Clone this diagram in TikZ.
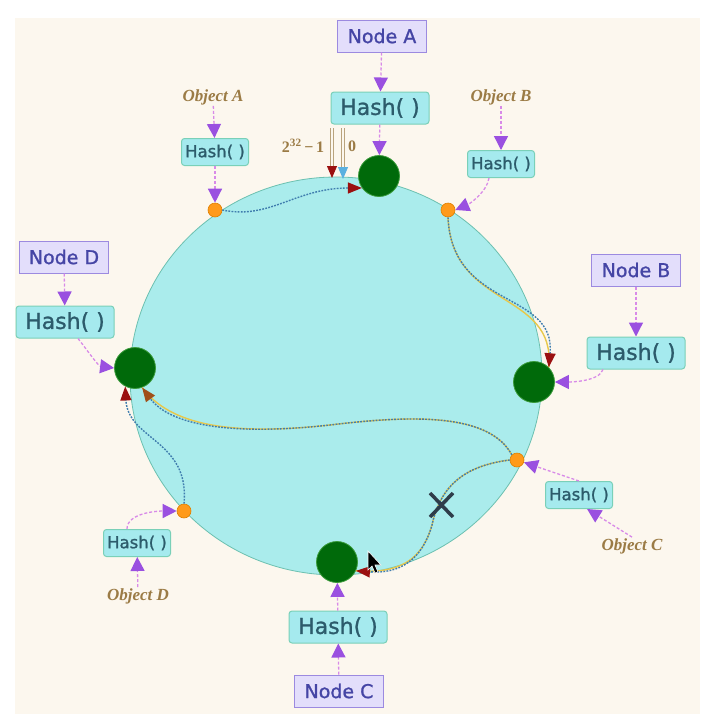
\documentclass[tikz,border=0pt]{standalone}
\usepackage{fontspec}
\setmainfont{Liberation Serif}
\newfontfamily\boxfont[FakeBold=1.2]{DejaVu Sans}
\newfontfamily\objfont{Liberation Serif}
\usetikzlibrary{arrows.meta}
\definecolor{PaperCream}{HTML}{FCF7EE}
\definecolor{RingCyan}{HTML}{AAECEC}
\definecolor{RingEdge}{HTML}{6CC0B0}
\definecolor{HubGreen}{HTML}{006A0A}
\definecolor{HubEdge}{HTML}{3A9A3A}
\definecolor{KeyOrange}{HTML}{FF9A1A}
\definecolor{KeyEdge}{HTML}{E08000}
\definecolor{ServerFill}{HTML}{E3DEFB}
\definecolor{ServerEdge}{HTML}{9C8AE0}
\definecolor{ServerText}{HTML}{4545A5}
\definecolor{HashFill}{HTML}{A5EAEE}
\definecolor{HashEdge}{HTML}{7AD0B8}
\definecolor{HashText}{HTML}{2C5B6B}
\definecolor{LinkPink}{HTML}{D88AE8}
\definecolor{LinkPurple}{HTML}{9A50E0}
\definecolor{ObjBrown}{HTML}{9B7B45}
\definecolor{FlowBlue}{HTML}{3F7DAE}
\definecolor{FlowYellow}{HTML}{E8C84A}
\definecolor{TipRed}{HTML}{9B1010}
\definecolor{TipBrown}{HTML}{A0501A}
\definecolor{TipBlue}{HTML}{5AB0E0}
\definecolor{CrossGray}{HTML}{2F3D4A}

\begin{document}
\begin{tikzpicture}[x=1pt,y=-1pt,
        server/.style={draw=ServerEdge,fill=ServerFill,text=ServerText,line width=1pt,minimum width=89pt,minimum height=32pt,inner sep=1pt,font=\boxfont\fontsize{19}{21}\selectfont},
        hashbig/.style={draw=HashEdge,fill=HashFill,text=HashText,rounded corners=3pt,line width=1pt,minimum width=98pt,minimum height=32pt,inner sep=1pt,font=\boxfont\fontsize{22}{24}\selectfont},
        hashsmall/.style={hashbig,minimum width=67pt,minimum height=27pt,font=\boxfont\fontsize{16.5}{18}\selectfont},
        objlabel/.style={text=ObjBrown,inner sep=1pt,font=\objfont\bfseries\itshape\fontsize{17}{19}\selectfont},
        hub/.style={circle,fill=HubGreen,draw=HubEdge,line width=0.8pt,minimum size=41pt,inner sep=0pt},
        key/.style={circle,fill=KeyOrange,draw=KeyEdge,line width=0.6pt,minimum size=14pt,inner sep=0pt},
        parr/.style={draw=LinkPink,line width=1.3pt,densely dashed,-{Triangle[length=14pt,width=14pt,color=LinkPurple]}},
        flow/.style={draw=FlowBlue,line width=1.4pt,dash pattern=on 1.8pt off 1.3pt,-{Triangle[length=14pt,width=11pt,color=TipRed]}},
        warmflow/.style={flow,preaction={draw=FlowYellow,line width=1.4pt,-}},
        markline/.style={draw=#1,line width=0.8pt,double=PaperCream,double distance=1.8pt}
      ]
        \useasboundingbox (0,0) rectangle (709,721);
        \fill[white] (0,0) rectangle (709,721);
        \fill[PaperCream] (15,18) rectangle (700,714);
        \draw[RingEdge,fill=RingCyan,line width=0.8pt] (336,376) ellipse [x radius=206,y radius=199];

        \node[hub] (gA) at (379,176) {};
        \node[hub] (gB) at (534,382) {};
        \node[hub] (gC) at (337,562) {};
        \node[hub] (gD) at (135,368) {};
        \node[key] (oA) at (215,210) {};
        \node[key] (oB) at (448,210) {};
        \node[key] (oC) at (517,460) {};
        \node[key] (oD) at (184,511) {};

        \node[server] (nA) at (382,36) {Node A};
        \node[hashbig] (hA) at (380,108) {Hash( )};
        \node[server] (nB) at (636,270) {Node B};
        \node[hashbig] (hB) at (636,353) {Hash( )};
        \node[server] (nC) at (339,691) {Node C};
        \node[hashbig] (hC) at (338,627) {Hash( )};
        \node[server] (nD) at (64,257) {Node D};
        \node[hashbig] (hD) at (65,322) {Hash( )};

        \node[objlabel] (objA) at (213,97) {Object A};
        \node[hashsmall] (hsA) at (215,152) {Hash( )};
        \node[objlabel] (objB) at (501,97) {Object B};
        \node[hashsmall] (hsB) at (501,164) {Hash( )};
        \node[objlabel] (objC) at (632,546) {Object C};
        \node[hashsmall] (hsC) at (579,495) {Hash( )};
        \node[objlabel] (objD) at (138,596) {Object D};
        \node[hashsmall] (hsD) at (137,543) {Hash( )};

        \node[text=ObjBrown,inner sep=1pt,font=\objfont\bfseries\fontsize{16}{18}\selectfont] (top) at (303,146) {2\textsuperscript{32}\,−\,1};
        \node[text=ObjBrown,inner sep=1pt,font=\objfont\bfseries\fontsize{16}{18}\selectfont] (zero) at (352,146) {0};
        \coordinate (endS) at (332,128);
        \coordinate (endE) at (332,178);
        \coordinate (zeroS) at (343,128);
        \coordinate (zeroE) at (343,179);

        \draw[parr] (nA) -- (hA);
        \draw[parr] (hA) -- (gA);
        \draw[parr] (nB) -- (hB);
        \draw[parr] (hB.south) ++(-33,0) .. controls +(-4,12) and +(16,0) .. (gB.east);
        \draw[parr] (nC) -- (hC);
        \draw[parr] (hC) -- (gC);
        \draw[parr] (nD) -- (hD);
        \draw[parr] (hD.south) ++(13,0) .. controls +(8,10) and +(-16,-2) .. (gD.west);
        \draw[parr] (objA) -- (hsA);
        \draw[parr] (hsA) -- (oA);
        \draw[parr] (objB) -- (hsB);
        \draw[parr] (hsB.south) ++(-12,0) .. controls +(-2,14) and +(14,-6) .. (oB.east);
        \draw[parr] (objC.north) -- (hsC.-60);
        \draw[parr] (hsC.north) -- (oC);
        \draw[parr] (objD) -- (hsD);
        \draw[parr] (hsD.north) ++(-10,0) .. controls +(0,-16) and +(-20,0) .. (oD.west);

        \draw[markline=ObjBrown!70,-{Triangle[length=12pt,width=10pt,color=TipRed]}] (endS) -- (endE);
        \draw[markline=ObjBrown!70,-{Triangle[length=12pt,width=10pt,color=TipBlue]}] (zeroS) -- (zeroE);

        \draw[flow] (oA.east) .. controls (270,220) and (295,188) .. (gA.215);
        \draw[warmflow] (oB.south) .. controls (452,310) and (556,290) .. (gB.45);
        \draw[warmflow,-{Triangle[length=14pt,width=11pt,color=TipBrown]}] (oC.north west) .. controls (490,415) and (420,414) .. (330,425) .. controls (230,436) and (170,425) .. (gD.-70);
        \draw[flow] (oD.north) .. controls (190,440) and (128,440) .. (gD.-118);
        \draw[warmflow] (oC.west) .. controls (462,466) and (440,488) .. (432,525) .. controls (422,560) and (400,574) .. (gC.-25);

        \draw[CrossGray,line width=3.5pt] (430,493) -- (453,517) (453,493) -- (430,517);
        \draw[white,fill=black,line width=0.6pt] (368,551) -- (368,570) -- (372,566) -- (375,573) -- (378,572) -- (375,565) -- (381,565) -- cycle;
      \end{tikzpicture}
\end{document}
